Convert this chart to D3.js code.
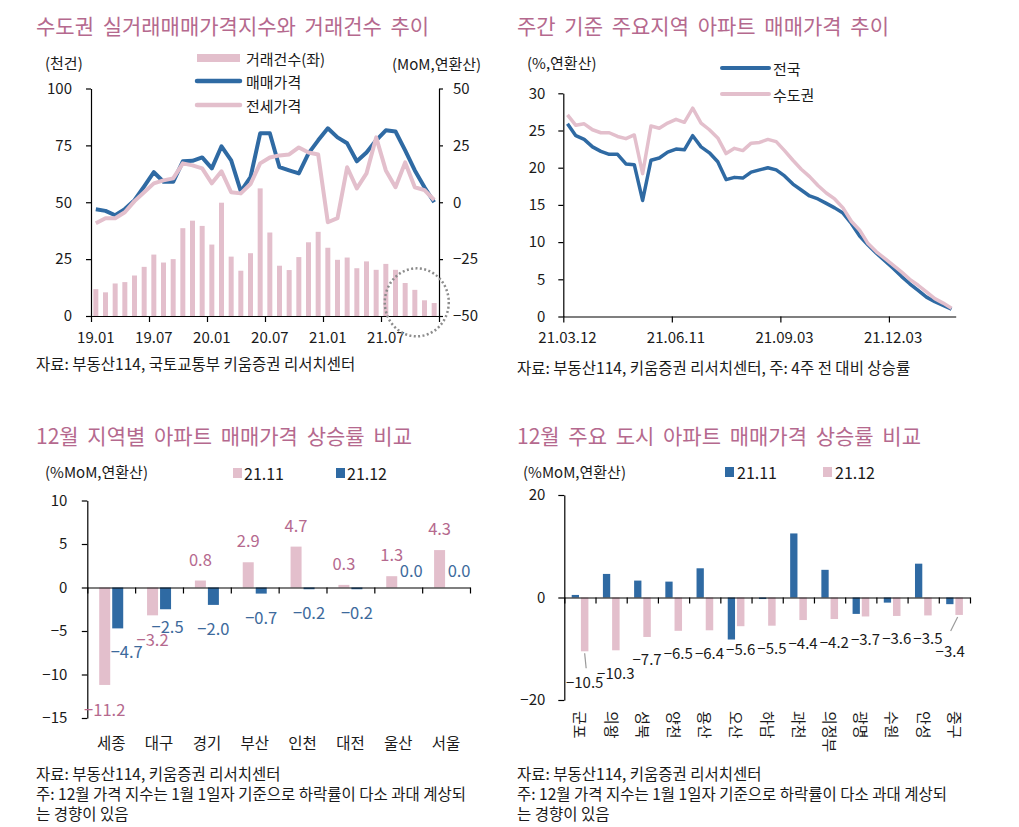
<!DOCTYPE html>
<html>
<head>
<meta charset="utf-8">
<script src="https://cdn.jsdelivr.net/npm/d3@7"></script>
<style>
  body { margin: 0; background: #fff; }
  svg text { font-family: "Noto Sans CJK KR", "Noto Sans", sans-serif; }
</style>
</head>
<body>
<div id="d3"></div>
<script>
// ---- chart 1: 수도권 실거래 (monthly 19.01 ~ 21.12)
const monthTicks = ["19.01", "19.07", "20.01", "20.07", "21.01", "21.07"];
const dealCount = [11.8, 10.4, 14.3, 14.9, 17.8, 21.6, 27.0, 23.5, 25.0, 38.6, 41.9, 39.6,
  31.4, 49.8, 26.1, 19.9, 27.6, 56.1, 36.7, 22.1, 20.2, 25.9, 32.4, 37.0,
  30.0, 24.7, 25.7, 21.0, 24.0, 20.3, 22.9, 20.3, 14.5, 11.5, 6.9, 5.7];
const salePrice = [-3.1, -3.8, -5.7, -3.0, 0.9, 7.0, 13.2, 9.0, 9.0, 18.0, 18.2, 19.7,
  14.9, 24.6, 18.4, 4.8, 11.0, 30.3, 30.3, 15.4, 14.0, 12.7, 21.5, 27.2,
  32.5, 28.5, 25.9, 18.0, 21.9, 27.2, 31.6, 31.1, 22.8, 14.0, 6.6, 0.0];
const jeonsePrice = [-9.2, -7.0, -7.0, -4.4, 0.5, 4.4, 8.3, 9.6, 10.5, 17.1, 16.2, 14.9,
  8.3, 13.6, 4.4, 3.9, 8.0, 17.1, 19.7, 20.6, 21.0, 24.1, 21.9, 21.0,
  -8.8, -7.0, 15.4, 6.1, 12.7, 28.5, 14.0, 6.6, 17.5, 6.6, 5.3, 1.0];

// ---- chart 2: weekly, 4주 전 대비 (47 weeks)
const weekTicks = ["21.03.12", "21.06.11", "21.09.03", "21.12.03"];
const nationwide = [25.9, 24.3, 23.8, 22.8, 22.2, 21.8, 21.8, 20.5, 20.4, 15.6, 21.0, 21.3,
  22.1, 22.5, 22.4, 24.3, 22.8, 22.0, 20.8, 18.4, 18.7, 18.6, 19.4, 19.7,
  20.0, 19.7, 18.9, 17.8, 17.0, 16.2, 15.8, 15.2, 14.6, 13.9, 12.5, 10.8,
  9.6, 8.5, 7.5, 6.5, 5.4, 4.4, 3.5, 2.6, 2.0, 1.5, 1.0];
const capital = [27.1, 25.7, 25.9, 25.1, 24.7, 24.7, 24.2, 23.9, 24.4, 19.2, 25.6, 25.3,
  26.0, 26.5, 26.1, 28.0, 26.0, 25.1, 24.0, 21.9, 22.6, 22.3, 23.3, 23.4,
  23.8, 23.5, 22.3, 21.0, 19.8, 18.8, 17.6, 16.6, 15.8, 14.6, 12.8, 11.6,
  9.8, 8.7, 7.8, 6.9, 6.0, 5.0, 4.2, 3.3, 2.4, 1.8, 1.1];

// ---- chart 3: 지역별
const regions = ["세종", "대구", "경기", "부산", "인천", "대전", "울산", "서울"];
const region2111 = [-11.2, -3.2, 0.8, 2.9, 4.7, 0.3, 1.3, 4.3];
const region2112 = [-4.7, -2.5, -2.0, -0.7, -0.2, -0.2, 0.0, 0.0];

// ---- chart 4: 주요 도시
const cities = ["군포", "의왕", "성북", "양천", "용산", "오산", "하남", "과천", "의정부", "광명", "수원", "안성", "중구"];
const city2111 = [0.5, 4.6, 3.3, 3.1, 5.7, -8.2, -0.3, 12.5, 5.4, -3.2, -1.0, 6.6, -1.3];
const city2112 = [-10.5, -10.3, -7.7, -6.5, -6.4, -5.6, -5.5, -4.4, -4.2, -3.7, -3.6, -3.5, -3.4];

const pink = "#e3bfcc",
  blue = "#2f6aa3",
  mauve = "#b5698e",
  labelBlue = "#3d6a9c",
  ink = "#1a1a1a";
const fmt = d3.format(".1f");

const svg = d3
  .select("#d3")
  .append("svg")
  .attr("width", 1019)
  .attr("height", 827);

function text(x, y, t, size, color) {
  return svg
    .append("text")
    .attr("x", x)
    .attr("y", y)
    .attr("dominant-baseline", "central")
    .attr("font-size", size)
    .attr("fill", color || ink)
    .text(t);
}

function title(x, y, t) {
  text(x, y, t, 21, mauve).attr("word-spacing", 4);
}

function styleAxis(g, size) {
  g.attr("font-size", size).attr("font-family", null);
  g.selectAll("text").attr("fill", ink);
  g.selectAll("path, line").attr("stroke", "#000").attr("stroke-width", 1.2);
}

// ================= chart 1 =================
title(36, 25, "수도권 실거래매매가격지수와 거래건수 추이");
text(45, 62, "(천건)", 15);
text(392, 63, "(MoM,연환산)", 15);

const x1 = d3.scaleBand().domain(d3.range(dealCount.length)).range([91, 439]);
const xt1 = d3.scaleLinear().domain([0, dealCount.length]).range([91, 439]);
const yL = d3.scaleLinear().domain([0, 100]).range([316, 88.5]);
const yR = d3.scaleLinear().domain([-50, 50]).range([316, 88.5]);
const bw1 = x1.bandwidth();

// bars
svg
  .append("g")
  .selectAll("rect")
  .data(dealCount)
  .join("rect")
  .attr("x", (d, i) => x1(i) + bw1 / 2 - 2.5)
  .attr("y", (d) => yL(d))
  .attr("width", 5)
  .attr("height", (d) => yL(0) - yL(d))
  .attr("fill", pink);

// axes
svg
  .append("g")
  .attr("transform", "translate(91,0)")
  .call(d3.axisLeft(yL).tickValues([0, 25, 50, 75, 100]).tickSize(5).tickPadding(14).tickSizeOuter(0))
  .call((g) => styleAxis(g, 15));
svg
  .append("g")
  .attr("transform", "translate(439,0)")
  .call(
    d3.axisRight(yR).tickValues([-50, -25, 0, 25, 50]).tickSize(4).tickPadding(10).tickSizeOuter(0)
      .tickFormat((d) => (d < 0 ? "\u2212" + Math.abs(d) : d))
  )
  .call((g) => styleAxis(g, 15));
svg
  .append("g")
  .attr("transform", "translate(0,316)")
  .call(d3.axisBottom(xt1).tickValues(d3.range(0, 37, 6)).tickFormat("").tickSize(6).tickSizeOuter(0))
  .call((g) => styleAxis(g, 15));
monthTicks.forEach((t, k) => {
  text(x1(k * 6) + bw1 / 2, 336, t, 15).attr("text-anchor", "middle");
});

// lines
const line1 = (vals) =>
  d3
    .line()
    .x((d, i) => x1(i) + bw1 / 2)
    .y((d) => yR(d))(vals);
svg.append("path").attr("d", line1(salePrice)).attr("fill", "none")
  .attr("stroke", blue).attr("stroke-width", 4).attr("stroke-linejoin", "round");
svg.append("path").attr("d", line1(jeonsePrice)).attr("fill", "none")
  .attr("stroke", pink).attr("stroke-width", 4).attr("stroke-linejoin", "round");

// dotted highlight on the last months
svg
  .append("ellipse")
  .attr("cx", xt1(33.7))
  .attr("cy", yL(6))
  .attr("rx", 32)
  .attr("ry", 34)
  .attr("fill", "none")
  .attr("stroke", "#8c8c8c")
  .attr("stroke-width", 2.5)
  .attr("stroke-dasharray", "2,2.4");

// legend
svg.append("rect").attr("x", 197).attr("y", 54).attr("width", 43).attr("height", 8).attr("fill", pink);
text(246, 58, "거래건수(좌)", 15);
svg.append("line").attr("x1", 197).attr("x2", 240).attr("y1", 81).attr("y2", 81)
  .attr("stroke", blue).attr("stroke-width", 4.5).attr("stroke-linecap", "round");
text(246, 81, "매매가격", 15);
svg.append("line").attr("x1", 197).attr("x2", 240).attr("y1", 105).attr("y2", 105)
  .attr("stroke", pink).attr("stroke-width", 4.5).attr("stroke-linecap", "round");
text(246, 105, "전세가격", 15);

text(36, 363, "자료: 부동산114, 국토교통부 키움증권 리서치센터", 15.5);

// ================= chart 2 =================
title(517, 25, "주간 기준 주요지역 아파트 매매가격 추이");
text(527, 62, "(%,연환산)", 15);

const x2 = d3.scaleBand().domain(d3.range(nationwide.length)).range([563.3, 955.7]);
const xt2 = d3.scaleLinear().domain([0, nationwide.length]).range([563.3, 955.7]);
const y2 = d3.scaleLinear().domain([0, 30]).range([316.5, 93.3]);
const bw2 = x2.bandwidth();

svg
  .append("g")
  .attr("transform", "translate(563.3,0)")
  .call(d3.axisLeft(y2).tickValues(d3.range(0, 31, 5)).tickSize(5).tickPadding(13).tickSizeOuter(0))
  .call((g) => styleAxis(g, 15));
svg
  .append("g")
  .attr("transform", "translate(0,316.5)")
  .call(d3.axisBottom(xt2).tickValues([0, 13, 26, 39]).tickFormat("").tickSize(6).tickSizeOuter(0))
  .call((g) => styleAxis(g, 15));
weekTicks.forEach((t, k) => {
  text(x2(k * 13) + bw2 / 2, 336, t, 15).attr("text-anchor", "middle");
});

const line2 = d3
  .line()
  .x((d, i) => x2(i) + bw2 / 2)
  .y((d) => y2(d));
svg.append("path").attr("d", line2(nationwide)).attr("fill", "none")
  .attr("stroke", blue).attr("stroke-width", 3.5).attr("stroke-linejoin", "round");
svg.append("path").attr("d", line2(capital)).attr("fill", "none")
  .attr("stroke", pink).attr("stroke-width", 3.5).attr("stroke-linejoin", "round");

svg.append("line").attr("x1", 722).attr("x2", 769).attr("y1", 68).attr("y2", 68)
  .attr("stroke", blue).attr("stroke-width", 4).attr("stroke-linecap", "round");
text(773, 68, "전국", 15);
svg.append("line").attr("x1", 722).attr("x2", 769).attr("y1", 94).attr("y2", 94)
  .attr("stroke", pink).attr("stroke-width", 4).attr("stroke-linecap", "round");
text(773, 94, "수도권", 15);

text(517, 367, "자료: 부동산114, 키움증권 리서치센터, 주: 4주 전 대비 상승률", 15.5);

// ================= chart 3 =================
title(36, 435, "12월 지역별 아파트 매매가격 상승률 비교");
text(45, 471, "(%MoM,연환산)", 15);
svg.append("rect").attr("x", 233).attr("y", 468).attr("width", 9).attr("height", 10).attr("fill", pink);
text(244, 473, "21.11", 16);
svg.append("rect").attr("x", 336).attr("y", 468).attr("width", 9).attr("height", 10).attr("fill", blue);
text(347, 473, "21.12", 16);

const x3 = d3.scaleBand().domain(regions).range([87.3, 470]);
const xt3 = d3.scaleLinear().domain([0, regions.length]).range([87.3, 470]);
const y3 = d3.scaleLinear().domain([-15, 10]).range([718, 500.5]);
const c3 = (i) => x3(regions[i]) + x3.bandwidth() / 2;

svg
  .append("g")
  .attr("transform", "translate(87.3,0)")
  .call(
    d3.axisLeft(y3).tickValues(d3.range(-15, 11, 5)).tickSize(5.5).tickPadding(14.5).tickSizeOuter(0)
      .tickFormat((d) => (d < 0 ? "\u2212" + Math.abs(d) : d))
  )
  .call((g) => styleAxis(g, 15));

svg.append("g").selectAll("rect").data(region2111).join("rect")
  .attr("x", (d, i) => c3(i) - 12)
  .attr("y", (d) => Math.min(y3(0), y3(d)))
  .attr("width", 11)
  .attr("height", (d) => Math.abs(y3(d) - y3(0)))
  .attr("fill", pink);
svg.append("g").selectAll("rect").data(region2112).join("rect")
  .attr("x", (d, i) => c3(i) + 1)
  .attr("y", (d) => Math.min(y3(0), y3(d)))
  .attr("width", 11)
  .attr("height", (d) => Math.abs(y3(d) - y3(0)))
  .attr("fill", blue);

svg
  .append("g")
  .attr("transform", `translate(0,${y3(0)})`)
  .call(d3.axisBottom(xt3).tickValues(d3.range(0, regions.length + 1)).tickFormat("").tickSize(6).tickSizeOuter(0))
  .call((g) => styleAxis(g, 15));

region2111.forEach((v, i) => {
  const ly = v >= 0 ? y3(v) - 22 : y3(v) + 24;
  text(c3(i) - 6.5, ly, fmt(v), 16.5, mauve).attr("text-anchor", "middle");
});
region2112.forEach((v, i) => {
  let lx = c3(i) + 6.5,
    ly = y3(v) + 23;
  if (v === 0) {
    lx = c3(i) + 13;
    ly = y3(0) - 18;
  }
  if (i === 0) lx += 9;
  if (i === 1) {
    lx += 2;
    ly -= 6;
  }
  text(lx, ly, fmt(v), 16.5, labelBlue).attr("text-anchor", "middle");
});
regions.forEach((r, i) => {
  text(c3(i), 742, r, 15.5).attr("text-anchor", "middle");
});

text(36, 773, "자료: 부동산114, 키움증권 리서치센터", 15.5);
text(36, 793, "주: 12월 가격 지수는 1월 1일자 기준으로 하락률이 다소 과대 계상되", 15.5);
text(36, 813, "는 경향이 있음", 15.5);

// ================= chart 4 =================
title(517, 435, "12월 주요 도시 아파트 매매가격 상승률 비교");
text(523, 471, "(%MoM,연환산)", 15);
svg.append("rect").attr("x", 725).attr("y", 467).attr("width", 9).attr("height", 10).attr("fill", blue);
text(737, 472, "21.11", 16);
svg.append("rect").attr("x", 823).attr("y", 467).attr("width", 9).attr("height", 10).attr("fill", pink);
text(835, 472, "21.12", 16);

const x4 = d3.scaleBand().domain(cities).range([564.3, 970]);
const xt4 = d3.scaleLinear().domain([0, cities.length]).range([564.3, 970]);
const y4 = d3.scaleLinear().domain([-20, 20]).range([700, 495]);
const c4 = (i) => x4(cities[i]) + x4.bandwidth() / 2;

svg
  .append("g")
  .attr("transform", "translate(564.3,0)")
  .call(
    d3.axisLeft(y4).tickValues([-20, 0, 20]).tickSize(6).tickPadding(13).tickSizeOuter(0)
      .tickFormat((d) => (d < 0 ? "\u2212" + Math.abs(d) : d))
  )
  .call((g) => styleAxis(g, 15));

svg.append("g").selectAll("rect").data(city2111).join("rect")
  .attr("x", (d, i) => c4(i) - 8.2)
  .attr("y", (d) => Math.min(y4(0), y4(d)))
  .attr("width", 7.3)
  .attr("height", (d) => Math.abs(y4(d) - y4(0)))
  .attr("fill", blue);
svg.append("g").selectAll("rect").data(city2112).join("rect")
  .attr("x", (d, i) => c4(i) + 1)
  .attr("y", (d) => Math.min(y4(0), y4(d)))
  .attr("width", 7.5)
  .attr("height", (d) => Math.abs(y4(d) - y4(0)))
  .attr("fill", pink);

svg
  .append("g")
  .attr("transform", `translate(0,${y4(0)})`)
  .call(d3.axisBottom(xt4).tickValues(d3.range(0, cities.length + 1)).tickFormat("").tickSize(6).tickSizeOuter(0))
  .call((g) => styleAxis(g, 15));

const last = city2112.length - 1;
city2112.forEach((v, i) => {
  const bx = c4(i) + 4.75,
    by = y4(v);
  let lx = bx,
    ly = by + 22;
  if (i === 0) {
    ly = by + 30;
    svg.append("line").attr("x1", bx).attr("y1", by + 2).attr("x2", bx + 1.5).attr("y2", by + 17)
      .attr("stroke", "#9a9a9a").attr("stroke-width", 1.2);
  }
  if (i === last) {
    lx = bx - 9;
    ly = by + 36;
    svg.append("line").attr("x1", bx - 1.5).attr("y1", by + 2).attr("x2", bx - 8.5).attr("y2", by + 16)
      .attr("stroke", "#9a9a9a").attr("stroke-width", 1.2);
  }
  text(lx, ly, fmt(v), 15).attr("text-anchor", "middle");
});

cities.forEach((c, i) => {
  svg
    .append("text")
    .attr("transform", `translate(${c4(i) + 1},711) rotate(90)`)
    .attr("dominant-baseline", "central")
    .attr("font-size", 15)
    .attr("fill", ink)
    .text(c);
});

text(517, 773, "자료: 부동산114, 키움증권 리서치센터", 15.5);
text(517, 793, "주: 12월 가격 지수는 1월 1일자 기준으로 하락률이 다소 과대 계상되", 15.5);
text(517, 813, "는 경향이 있음", 15.5);
</script>
</body>
</html>
